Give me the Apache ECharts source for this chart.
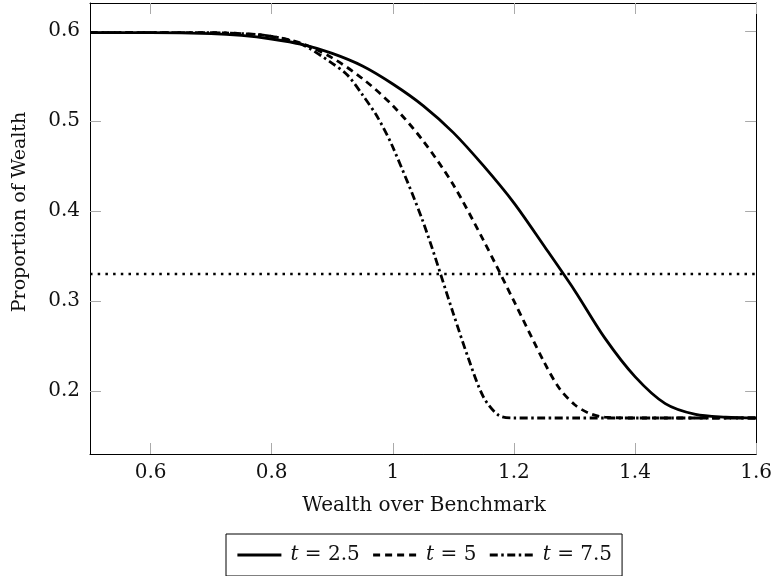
<!DOCTYPE html>
<html>
<head>
<meta charset="utf-8">
<script src="https://cdn.jsdelivr.net/npm/echarts@6/dist/echarts.min.js"></script>
<style>
html,body{margin:0;padding:0;background:#fff;}
#chart{width:775px;height:576px;}
</style>
</head>
<body>
<div id="chart"></div>
<script>
// ---- data ----
const xTicks = [0.6, 0.8, 1, 1.2, 1.4, 1.6];
const yTicks = [0.2, 0.3, 0.4, 0.5, 0.6];
const seriesNames = ['t = 2.5', 't = 5', 't = 7.5'];
const tValues = ['2.5', '5', '7.5'];

const x25 = [0.5, 0.6, 0.7, 0.75, 0.8, 0.85, 0.9, 0.95, 1.0, 1.05, 1.1, 1.15, 1.2, 1.25, 1.3, 1.35, 1.4, 1.45, 1.5, 1.55, 1.6];
const y25 = [0.598, 0.598, 0.597, 0.595, 0.591, 0.585, 0.575, 0.561, 0.541, 0.517, 0.487, 0.450, 0.409, 0.361, 0.312, 0.259, 0.216, 0.186, 0.174, 0.171, 0.170];

const x5 = [0.5, 0.6, 0.7, 0.75, 0.8, 0.85, 0.9, 0.95, 1.0, 1.05, 1.1, 1.15, 1.2, 1.25, 1.275, 1.3, 1.325, 1.35, 1.4, 1.5, 1.6];
const y5 = [0.598, 0.598, 0.598, 0.597, 0.594, 0.586, 0.570, 0.547, 0.517, 0.478, 0.429, 0.367, 0.300, 0.232, 0.203, 0.185, 0.175, 0.171, 0.170, 0.170, 0.170];

const x75 = [0.5, 0.6, 0.7, 0.75, 0.8, 0.85, 0.9, 0.925, 0.95, 0.975, 1.0, 1.05, 1.1, 1.125, 1.15, 1.175, 1.2, 1.25, 1.3, 1.4, 1.5, 1.6];
const y75 = [0.598, 0.598, 0.598, 0.597, 0.594, 0.585, 0.564, 0.551, 0.529, 0.504, 0.471, 0.388, 0.286, 0.236, 0.193, 0.173, 0.170, 0.170, 0.170, 0.170, 0.170, 0.170];

const refX = [0.5, 1.6];
const refY = [0.33, 0.33];

const xLabel = 'Wealth over Benchmark';
const yLabel = 'Proportion of Wealth';

// ---- chart ----
const FONT = 'DejaVu Serif';
const zip = (xs, ys) => xs.map((x, i) => [x, ys[i]]);
const chart = echarts.init(document.getElementById('chart'), null, {renderer: 'canvas'});

const tickStyle = {show: true, inside: true, length: 11, lineStyle: {color: '#aaa', width: 1}};
const axisLine = {show: true, onZero: false, lineStyle: {color: '#000', width: 1}};
const labelStyle = {fontFamily: FONT, fontSize: 20, color: '#111'};

function lineSeries(name, data, type, width) {
  return {
    name: name, type: 'line', data: data, symbol: 'none', smooth: 0.3,
    xAxisIndex: 0, yAxisIndex: 0, silent: true, clip: true,
    itemStyle: {color: '#000'},
    lineStyle: {color: '#000', width: width, type: type, cap: 'butt'}
  };
}

chart.setOption({
  animation: false,
  grid: {left: 90, right: 17, top: 3, bottom: 122, containLabel: false},
  xAxis: [
    {type: 'value', min: 0.5, max: 1.6, position: 'bottom',
     axisLine: axisLine, splitLine: {show: false},
     axisTick: Object.assign({customValues: xTicks}, tickStyle),
     axisLabel: Object.assign({customValues: xTicks, margin: 9}, labelStyle)},
    {type: 'value', min: 0.5, max: 1.6, position: 'top',
     axisLine: axisLine, splitLine: {show: false},
     axisTick: Object.assign({customValues: xTicks}, tickStyle),
     axisLabel: {show: false}}
  ],
  yAxis: [
    {type: 'value', min: 0.13, max: 0.631, position: 'left',
     axisLine: axisLine, splitLine: {show: false},
     axisTick: Object.assign({customValues: yTicks}, tickStyle),
     axisLabel: Object.assign({customValues: yTicks, margin: 10}, labelStyle)},
    {type: 'value', min: 0.13, max: 0.631, position: 'right',
     axisLine: axisLine, splitLine: {show: false},
     axisTick: Object.assign({customValues: yTicks}, tickStyle),
     axisLabel: {show: false}}
  ],
  legend: {
    data: seriesNames,
    left: 226, top: 534,
    itemWidth: 44, itemHeight: 14, itemGap: 12,
    padding: [11, 10, 11, 10],
    borderColor: '#000', borderWidth: 1,
    itemStyle: {color: 'rgba(0,0,0,0)', borderColor: 'rgba(0,0,0,0)', borderWidth: 0},
    lineStyle: {width: 'inherit', type: 'inherit', color: '#000'},
    textStyle: {fontFamily: FONT, fontSize: 20, color: '#111', padding: [0, 0, 0, 4],
      rich: {i: {fontFamily: FONT, fontSize: 20, fontStyle: 'italic', color: '#111'}}},
    formatter: function (name) {
      const k = seriesNames.indexOf(name);
      return '{i|t} = ' + tValues[k];
    }
  },
  graphic: [
    {type: 'text', silent: true, x: 424, y: 506,
     style: {text: xLabel, textAlign: 'center', textVerticalAlign: 'middle',
       font: '20px "' + FONT + '"', fill: '#111'}},
    {type: 'text', silent: true, rotation: Math.PI / 2, x: 20, y: 212,
     style: {text: yLabel, textAlign: 'center', textVerticalAlign: 'middle',
       font: '19px "' + FONT + '"', fill: '#111'}}
  ],
  series: [
    lineSeries(seriesNames[0], zip(x25, y25), 'solid', 2.8),
    lineSeries(seriesNames[1], zip(x5, y5), [7, 5], 2.8),
    lineSeries(seriesNames[2], zip(x75, y75), [8, 3.5, 2.5, 3.5], 2.8),
    {name: 'ref', type: 'line', data: zip(refX, refY), symbol: 'none', silent: true,
     lineStyle: {color: '#000', width: 2.5, type: [2.5, 5.2]}}
  ]
});
</script>
</body>
</html>
